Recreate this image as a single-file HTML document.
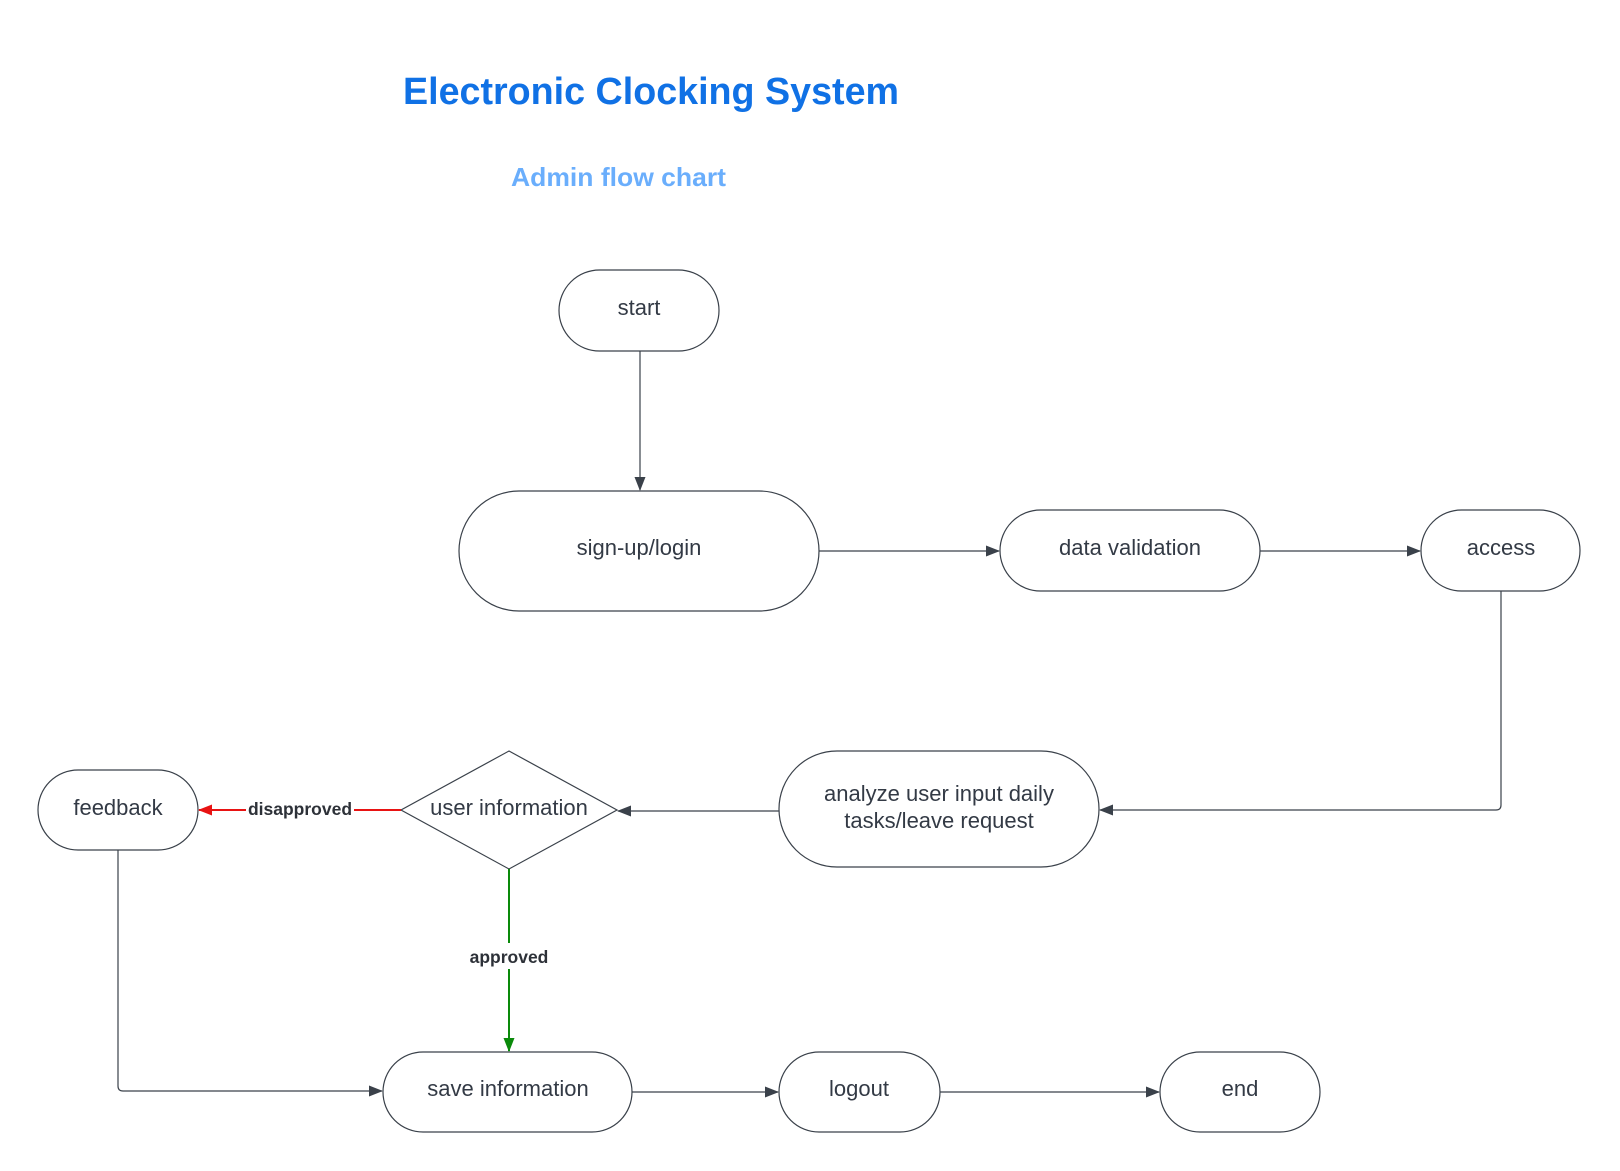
<!DOCTYPE html>
<html><head><meta charset="utf-8"><style>
html,body{margin:0;padding:0;background:#fff;}
svg{display:block;}
text{font-family:"Liberation Sans",Arial,sans-serif;}
</style></head><body>
<svg width="1620" height="1171" viewBox="0 0 1620 1171" xmlns="http://www.w3.org/2000/svg">
<defs>
<marker id="ad" viewBox="0 0 14 11" refX="13" refY="5.5" markerWidth="14" markerHeight="11" markerUnits="userSpaceOnUse" orient="auto"><path d="M0,0 L14,5.5 L0,11 z" fill="#3a414a"/></marker>
<marker id="ar" viewBox="0 0 14 11" refX="13" refY="5.5" markerWidth="14" markerHeight="11" markerUnits="userSpaceOnUse" orient="auto"><path d="M0,0 L14,5.5 L0,11 z" fill="#e81313"/></marker>
<marker id="ag" viewBox="0 0 14 11" refX="13" refY="5.5" markerWidth="14" markerHeight="11" markerUnits="userSpaceOnUse" orient="auto"><path d="M0,0 L14,5.5 L0,11 z" fill="#0a8a0a"/></marker>
</defs>
<g transform="translate(-2,-1)">
<text x="405" y="105" font-size="38" font-weight="bold" fill="#1071e5" textLength="496" lengthAdjust="spacingAndGlyphs">Electronic Clocking System</text>
<text x="513" y="187" font-size="26" font-weight="bold" fill="#6aaefc" textLength="215" lengthAdjust="spacingAndGlyphs">Admin flow chart</text>

<g fill="#fff" stroke="#3a414a" stroke-width="1.2">
<rect x="561" y="271" width="160" height="81" rx="40.5"/>
<rect x="461" y="492" width="360" height="120" rx="60"/>
<rect x="1002" y="511" width="260" height="81" rx="40.5"/>
<rect x="1423" y="511" width="159" height="81" rx="40.5"/>
<rect x="781" y="752" width="320" height="116" rx="58"/>
<path d="M511,752 L619,811 L511,870 L403,811 Z"/>
<rect x="40" y="771" width="160" height="80" rx="40"/>
<rect x="385" y="1053" width="249" height="80" rx="40"/>
<rect x="781" y="1053" width="161" height="80" rx="40"/>
<rect x="1162" y="1053" width="160" height="80" rx="40"/>
</g>

<g fill="none" stroke="#3a414a" stroke-width="1.2">
<path d="M642,352 L642,491" marker-end="url(#ad)"/>
<path d="M821,552 L1001,552" marker-end="url(#ad)"/>
<path d="M1262,552 L1422,552" marker-end="url(#ad)"/>
<path d="M1503,592 L1503,806 Q1503,811 1498,811 L1102,811" marker-end="url(#ad)"/>
<path d="M781,812 L620,812" marker-end="url(#ad)"/>
<path d="M120,851 L120,1087 Q120,1092 125,1092 L384,1092" marker-end="url(#ad)"/>
<path d="M634,1093 L780,1093" marker-end="url(#ad)"/>
<path d="M942,1093 L1161,1093" marker-end="url(#ad)"/>
</g>
<path d="M403,811 L201,811" stroke="#e81313" stroke-width="2" fill="none" marker-end="url(#ar)"/>
<path d="M511,870 L511,1052" stroke="#0a8a0a" stroke-width="2" fill="none" marker-end="url(#ag)"/>
<rect x="248" y="798" width="108" height="24" fill="#fff"/>
<rect x="466" y="944" width="92" height="26" fill="#fff"/>
<text x="302" y="816" font-size="17.5" font-weight="bold" fill="#2d3138" text-anchor="middle">disapproved</text>
<text x="511" y="964" font-size="17.5" font-weight="bold" fill="#2d3138" text-anchor="middle">approved</text>

<g font-size="22" fill="#333a45" text-anchor="middle">
<text x="641" y="316">start</text>
<text x="641" y="556">sign-up/login</text>
<text x="1132" y="556">data validation</text>
<text x="1503" y="556">access</text>
<text x="941" y="802">analyze user input daily</text>
<text x="941" y="829">tasks/leave request</text>
<text x="511" y="816">user information</text>
<text x="120" y="816">feedback</text>
<text x="510" y="1097">save information</text>
<text x="861" y="1097">logout</text>
<text x="1242" y="1097">end</text>
</g>
</g>
</svg>
</body></html>
